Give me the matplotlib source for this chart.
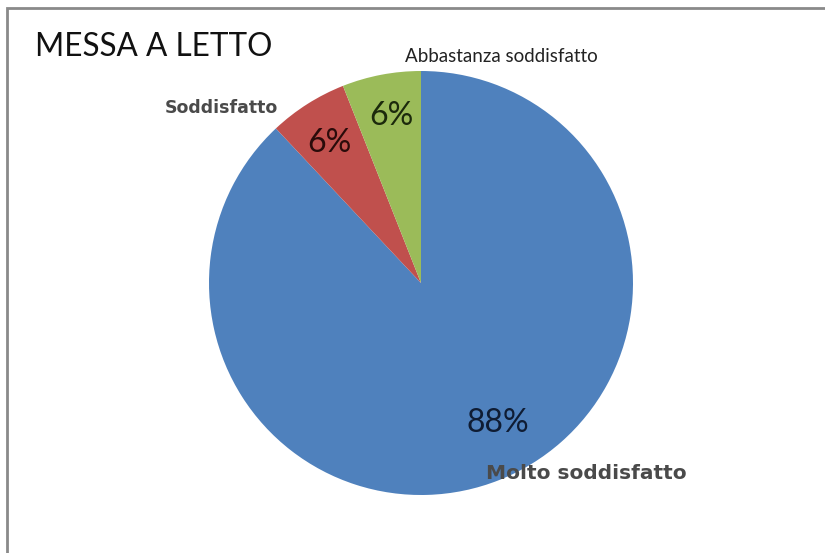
import matplotlib
matplotlib.use('Agg')
from matplotlib import pyplot as plt
from matplotlib.patches import Rectangle

titolo = 'MESSA A LETTO'
categorie = ['Molto soddisfatto', 'Soddisfatto', 'Abbastanza soddisfatto']
percentuali = [88, 6, 6]
colori = ['#4F81BD', '#C0504D', '#9BBB59']
colori_pct = ['#0f1c33', '#2a0b0a', '#1c2a0c']

# posizioni delle etichette (raggio della torta = 1)
pos_pct = [(0.36, -0.66), (-0.43, 0.66), (-0.14, 0.79)]
pos_nomi = [(0.78, -0.90), (-0.94, 0.825), (0.38, 1.07)]
font_nomi = ['DejaVu Sans', 'DejaVu Sans', 'Lato']
size_nomi = [14.5, 12.5, 13.5]
peso_nomi = ['bold', 'bold', 'normal']


def main():
    W, H, dpi = 825, 553, 100
    fig = plt.figure(figsize=(W / dpi, H / dpi), dpi=dpi)
    fig.patch.set_facecolor('white')

    # cornice grigia del grafico
    fig.add_artist(Rectangle((7 / W, -0.05), 1.1, 1 - 8 / H + 0.05,
                             transform=fig.transFigure, fill=False,
                             edgecolor='#8a8a8a', linewidth=2))

    # assi quadrati: centro torta a (421, 283) px, raggio 212 px
    r_px, cx, cy = 212, 421, H - 283
    a = 1.35
    lato = 2 * a * r_px
    ax = fig.add_axes([(cx - lato / 2) / W, (cy - lato / 2) / H, lato / W, lato / H])

    ax.pie(percentuali, colors=colori, startangle=90, counterclock=False,
           radius=1, wedgeprops=dict(linewidth=0))
    ax.set_xlim(-a, a)
    ax.set_ylim(-a, a)
    ax.set_aspect('equal')
    ax.axis('off')

    for p, (x, y), c in zip(percentuali, pos_pct, colori_pct):
        ax.text(x, y, f'{p}%', ha='center', va='center', fontsize=23,
                family='Lato', color=c)

    for nome, (x, y), f, s, w in zip(categorie, pos_nomi, font_nomi, size_nomi, peso_nomi):
        ax.text(x, y, nome, ha='center', va='center', fontsize=s,
                family=f, fontweight=w, color='#4a4a4a' if w == 'bold' else '#222222')

    fig.text(35 / W, 1 - 47 / H, titolo, ha='left', va='center',
             fontsize=22.7, family='Lato', color='#111111')

    fig.savefig('out.png', dpi=dpi)


if __name__ == '__main__':
    main()
